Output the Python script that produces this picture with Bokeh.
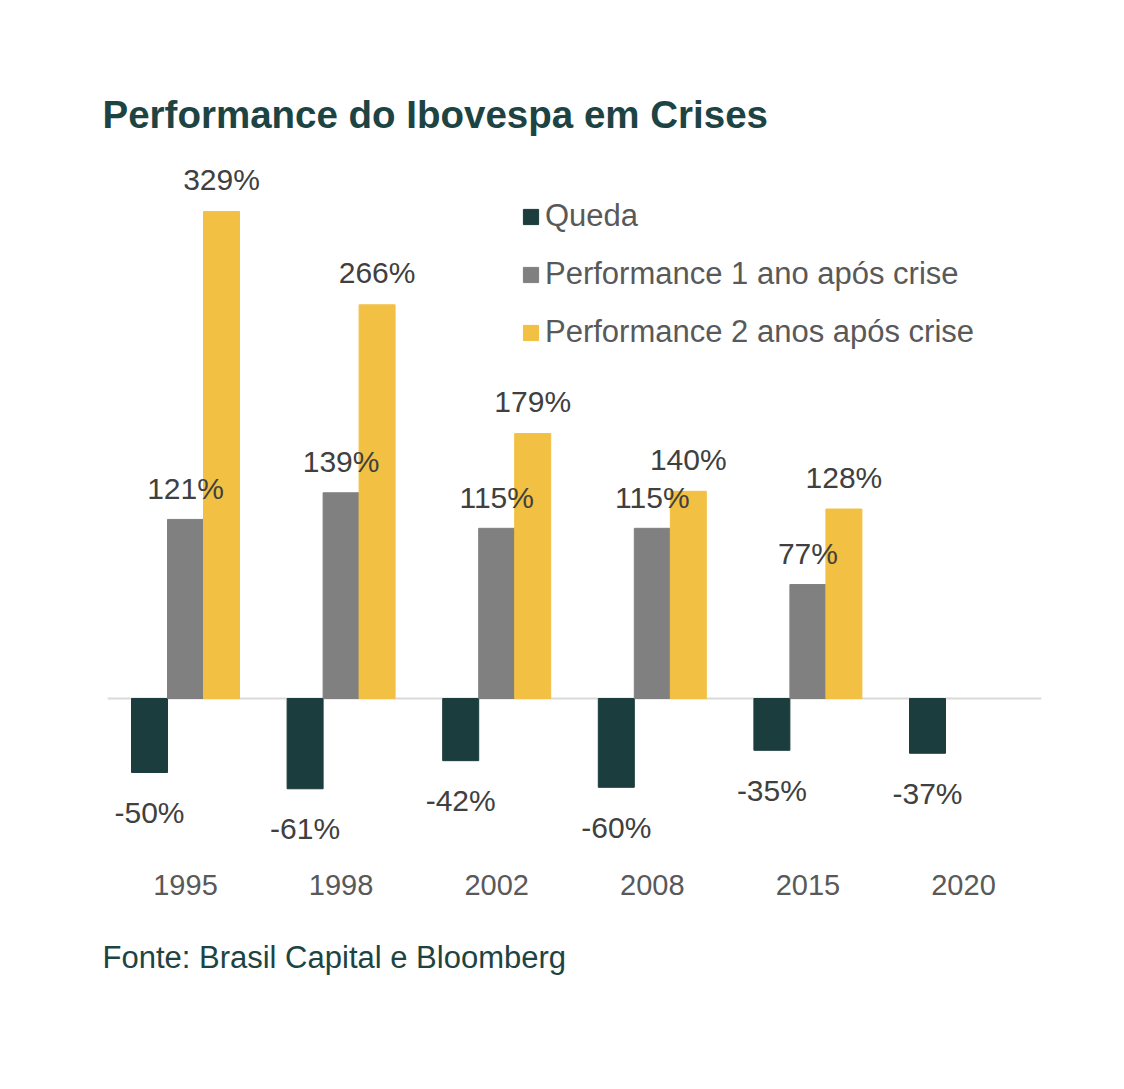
from bokeh.plotting import figure
from bokeh.models import Range1d, ColumnDataSource, Label, Legend, LegendItem
from bokeh.core.properties import value
from bokeh.embed import file_html
from bokeh.resources import INLINE

years = ["1995", "1998", "2002", "2008", "2015", "2020"]
queda = [-50, -61, -42, -60, -35, -37]
perf_1 = [121, 139, 115, 115, 77, None]
perf_2 = [329, 266, 179, 140, 128, None]

C_QUEDA = "#1b3d3d"
C_P1 = "#808080"
C_P2 = "#f2c143"
TEAL = "#1d4443"
LBL = "#404040"
FONT = "Liberation Sans"

W, H = 1108, 1073
PX_PER_UNIT_Y = 1.48
ZERO_PX = 698          # zero line, px from frame top
GROUP_PX = 155.6
FIRST_PX = 185         # first group centre, px from frame left

y_top = ZERO_PX / PX_PER_UNIT_Y
y_bot = -(H - ZERO_PX) / PX_PER_UNIT_Y
x_left = -FIRST_PX / GROUP_PX
x_right = (W - FIRST_PX) / GROUP_PX
bw = 36 / GROUP_PX

p = figure(width=W, height=H, output_backend="svg", toolbar_location=None,
           x_range=Range1d(x_left, x_right), y_range=Range1d(y_bot, y_top),
           min_border=0, outline_line_color=None)
p.axis.visible = False
p.grid.visible = False
p.background_fill_color = "white"

idx = list(range(len(years)))

def fmt(v):
    return "" if v is None else f"{v}%"

src_q = ColumnDataSource(dict(x=[i - bw for i in idx], top=queda, lab=[fmt(v) for v in queda]))
src_1 = ColumnDataSource(dict(x=[i for i, v in zip(idx, perf_1) if v is not None],
                              top=[v for v in perf_1 if v is not None],
                              lab=[fmt(v) for v in perf_1 if v is not None]))
src_2 = ColumnDataSource(dict(x=[i + bw for i, v in zip(idx, perf_2) if v is not None],
                              top=[v for v in perf_2 if v is not None],
                              lab=[fmt(v) for v in perf_2 if v is not None]))

# zero line
p.segment(x0=[-0.5], y0=[0], x1=[5.5], y1=[0], line_color="#d9d9d9", line_width=2)

r_q = p.vbar(x="x", top="top", bottom=0, width=bw, color=C_QUEDA, source=src_q)
r_1 = p.vbar(x="x", top="top", bottom=0, width=bw, color=C_P1, source=src_1)
r_2 = p.vbar(x="x", top="top", bottom=0, width=bw, color=C_P2, source=src_2)

common = dict(text_font=value(FONT), text_font_size="30px", text_color=LBL,
              text_align="center", text_baseline="middle")
p.text(x="x", y="top", text="lab", source=src_q, y_offset=40, **common)
p.text(x="x", y="top", text="lab", source=src_1, y_offset=-31, **common)
p.text(x="x", y="top", text="lab", source=src_2, y_offset=-32, **common)

# category labels
src_y = ColumnDataSource(dict(x=idx, y=[y_bot] * len(idx), t=years))
p.text(x="x", y="y", text="t", source=src_y, y_offset=-(H - 884),
       text_font=value(FONT), text_font_size="29px", text_color="#595959",
       text_align="center", text_baseline="middle")

legend = Legend(items=[LegendItem(label="Queda", renderers=[r_q]),
                       LegendItem(label="Performance 1 ano após crise", renderers=[r_1]),
                       LegendItem(label="Performance 2 anos após crise", renderers=[r_2])],
                location=(521, H - 352), orientation="vertical",
                glyph_width=19, glyph_height=19, label_standoff=5,
                label_text_font=FONT, label_text_font_size="31px",
                label_text_color="#595959", label_height=40, spacing=18,
                padding=0, margin=0, border_line_color=None,
                background_fill_alpha=0)
p.add_layout(legend)

p.add_layout(Label(x=102, y=H - 114, x_units="screen", y_units="screen",
                   text="Performance do Ibovespa em Crises", text_font=FONT,
                   text_font_size="38.5px", text_font_style="bold", text_color=TEAL,
                   text_baseline="alphabetic"))
p.add_layout(Label(x=102, y=H - 957, x_units="screen", y_units="screen",
                   text="Fonte: Brasil Capital e Bloomberg", text_font=FONT,
                   text_font_size="31px", text_color=TEAL,
                   text_baseline="alphabetic"))

open("out.html", "w").write(file_html(p, INLINE))
